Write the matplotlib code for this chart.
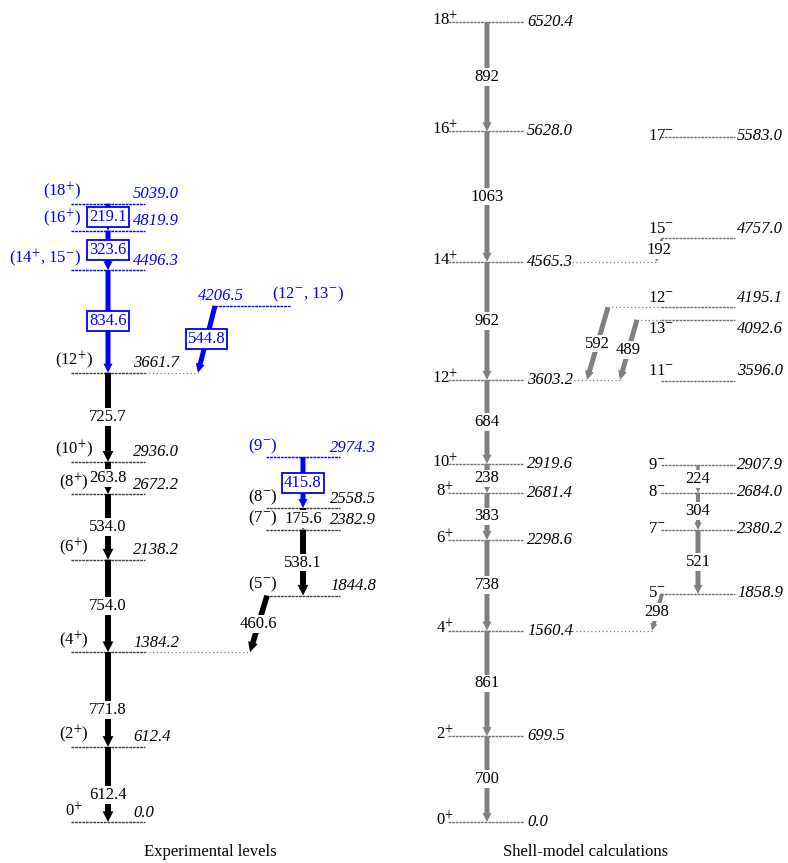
import matplotlib
matplotlib.use("Agg")
import matplotlib.pyplot as plt
from matplotlib.patches import FancyArrowPatch, ArrowStyle

plt.rcParams["font.family"] = ["Liberation Serif", "DejaVu Serif"]
plt.rcParams["mathtext.fontset"] = "stix"
plt.rcParams["font.size"] = 12

BLUE = "#0000ff"
GREY = "#808080"

# Experimental levels: ground band
exp_band_E = [0.0, 612.4, 1384.2, 2138.2, 2672.2, 2936.0, 3661.7, 4496.3, 4819.9, 5039.0]
exp_band_J = [r"0$^{+}$", r"(2$^{+}$)", r"(4$^{+}$)", r"(6$^{+}$)", r"(8$^{+}$)", r"(10$^{+}$)",
              r"(12$^{+}$)", r"(14$^{+}$, 15$^{-}$)", r"(16$^{+}$)", r"(18$^{+}$)"]
exp_band_new = [False, False, False, False, False, False, False, True, True, True]

# Experimental levels: negative-parity side band
exp_side_E = [1844.8, 2382.9, 2558.5, 2974.3]
exp_side_J = [r"(5$^{-}$)", r"(7$^{-}$)", r"(8$^{-}$)", r"(9$^{-}$)"]
exp_side_new = [False, False, False, True]

exp_top_E = 4206.5
exp_top_J = r"(12$^{-}$, 13$^{-}$)"

# Experimental gamma rays (from, to, label)
exp_band_gammas = [(612.4, 0.0, "612.4"), (1384.2, 612.4, "771.8"), (2138.2, 1384.2, "754.0"),
                   (2672.2, 2138.2, "534.0"), (2936.0, 2672.2, "263.8"), (3661.7, 2936.0, "725.7"),
                   (4496.3, 3661.7, "834.6"), (4819.9, 4496.3, "323.6"), (5039.0, 4819.9, "219.1")]
exp_side_gammas = [(2382.9, 1844.8, "538.1"), (2558.5, 2382.9, "175.6"), (2974.3, 2558.5, "415.8")]
exp_cross_gammas = [(1844.8, 1384.2, "460.6"), (4206.5, 3661.7, "544.8")]

# Shell-model levels
sm_pos_E = [0.0, 699.5, 1560.4, 2298.6, 2681.4, 2919.6, 3603.2, 4565.3, 5628.0, 6520.4]
sm_pos_J = [r"0$^{+}$", r"2$^{+}$", r"4$^{+}$", r"6$^{+}$", r"8$^{+}$", r"10$^{+}$",
            r"12$^{+}$", r"14$^{+}$", r"16$^{+}$", r"18$^{+}$"]
sm_neg_E = [1858.9, 2380.2, 2684.0, 2907.9, 3596.0, 4092.6, 4195.1, 4757.0, 5583.0]
sm_neg_J = [r"5$^{-}$", r"7$^{-}$", r"8$^{-}$", r"9$^{-}$", r"11$^{-}$", r"13$^{-}$",
            r"12$^{-}$", r"15$^{-}$", r"17$^{-}$"]

sm_pos_gammas = [(699.5, 0.0, "700"), (1560.4, 699.5, "861"), (2298.6, 1560.4, "738"),
                 (2681.4, 2298.6, "383"), (2919.6, 2681.4, "238"), (3603.2, 2919.6, "684"),
                 (4565.3, 3603.2, "962"), (5628.0, 4565.3, "1063"), (6520.4, 5628.0, "892")]
sm_neg_gammas = [(1858.9, 1560.4, "298"), (2380.2, 1858.9, "521"), (2684.0, 2380.2, "304"),
                 (2907.9, 2684.0, "224"), (4757.0, 4565.3, "192"),
                 (4195.1, 3603.2, "592"), (4092.6, 3603.2, "489")]

fig = plt.figure(figsize=(7.88, 8.63), dpi=100)
ax = fig.add_axes([0, 0, 1, 1])
ax.set_xlim(0, 788)
ax.set_ylim(-334, 6699)
ax.axis("off")

LEVEL_LS = (0, (2.0, 0.6))
EXT_LS = (0, (1.0, 2.0))


def level(x0, x1, E, color="0.25"):
    ax.plot([x0, x1], [E, E], color=color, lw=1.0, ls=LEVEL_LS, zorder=2)


def extension(x0, x1, E):
    ax.plot([x0, x1], [E, E], color="0.5", lw=0.9, ls=EXT_LS, zorder=1)


def label(x, E, s, color="black", ha="center", va="bottom", dy=1.0, italic=False):
    ax.annotate(s, (x, E), xytext=(0, dy), textcoords="offset points", ha=ha, va=va,
                color=color, fontstyle="italic" if italic else "normal", zorder=5)


def gamma(x0, E0, x1, E1, text, color="black", w=4.3, boxed=False, frac=0.5, tcolor=None):
    style = ArrowStyle.Simple(head_length=1.8 * w, head_width=1.8 * w, tail_width=w)
    arr = FancyArrowPatch((x0, E0), (x1, E1), arrowstyle=style, mutation_scale=1,
                          color=color, lw=0, shrinkA=0, shrinkB=0, zorder=3)
    ax.add_patch(arr)
    if boxed:
        bbox = dict(boxstyle="square,pad=0.12", fc="white", ec=color, lw=1.3)
    else:
        bbox = dict(boxstyle="square,pad=0.05", fc="white", ec="none")
    ax.text(x0 + frac * (x1 - x0), E0 + frac * (E1 - E0), text, ha="center", va="center",
            color=tcolor or color, bbox=bbox, zorder=4)


# ---- experimental scheme ----
BX0, BX1, BX = 71, 145, 108
for E, J, new in zip(exp_band_E, exp_band_J, exp_band_new):
    c = BLUE if new else "black"
    level(BX0, BX1, E, BLUE if new else "0.25")
    if new:
        label(81, E, J, c, ha="right")
    else:
        label(74, E, J, c)
    label(133, E, f"{E:.1f}", c, ha="left", italic=True)

SX0, SX1, SX = 266, 340, 303
for E, J, new in zip(exp_side_E, exp_side_J, exp_side_new):
    c = BLUE if new else "black"
    level(SX0, SX1, E, BLUE if new else "0.25")
    label(278, E, J, c, ha="right")
    label(330, E, f"{E:.1f}", c, ha="left", italic=True)

level(215, 290, exp_top_E, BLUE)
label(198, exp_top_E, f"{exp_top_E:.1f}", BLUE, ha="left", italic=True)
label(272, exp_top_E, exp_top_J, BLUE, ha="left")

extension(BX1, 198, 3661.7)
extension(BX1, 250, 1384.2)

# lowest two labels sit a little below the middle of their arrows
band_frac = {"612.4": 0.64, "771.8": 0.61}
for Ei, Ef, t in exp_band_gammas:
    new = Ei > 4000
    gamma(BX, Ei, BX, Ef, t, BLUE if new else "black", 3.6 if new else 4.3,
          boxed=new, frac=band_frac.get(t, 0.5))
for Ei, Ef, t in exp_side_gammas:
    new = Ei > 2900
    gamma(SX, Ei, SX, Ef, t, BLUE if new else "black", 3.6 if new else 4.3, boxed=new)
gamma(267, exp_cross_gammas[0][0], 250, exp_cross_gammas[0][1], exp_cross_gammas[0][2], "black", 4.0)
gamma(215, exp_cross_gammas[1][0], 198, exp_cross_gammas[1][1], exp_cross_gammas[1][2], BLUE, 3.6, boxed=True)

# ---- shell-model scheme ----
PX0, PX1, PX = 448, 523, 487
for E, J in zip(sm_pos_E, sm_pos_J):
    level(PX0, PX1, E, "0.45")
    label(445, E, J, va="center", dy=1.5)
    label(527, E, f"{E:.1f}", ha="left", va="center", dy=0, italic=True)

NX0, NX1, NX = 661, 735, 698
neg_va = {"11": "bottom", "12": "bottom", "15": "bottom", "13": "top"}
for E, J in zip(sm_neg_E, sm_neg_J):
    level(NX0, NX1, E, "0.45")
    key = J.split("$")[0]
    va = neg_va.get(key, "center")
    dy = {"bottom": 1.0, "top": -1.0, "center": 0.5}[va]
    label(648, E, J, ha="left", va=va, dy=dy)
    label(737, E, f"{E:.1f}", ha="left", va=va, dy=dy, italic=True)

extension(572, 652, 1560.4)
extension(572, 656, 4565.3)
extension(570, 620, 3603.2)
extension(608, NX0, 4195.1)
extension(637, NX0, 4092.6)

for Ei, Ef, t in sm_pos_gammas:
    gamma(PX, Ei, PX, Ef, t, GREY, 3.6, tcolor="black")

neg_geom = {"298": (662, 652, 2.8), "521": (NX, NX, 3.6), "304": (NX, NX, 3.0),
            "224": (NX, NX, 2.4), "192": (662, 656, 1.9), "592": (608, 587, 3.6),
            "489": (637, 620, 3.6)}
for Ei, Ef, t in sm_neg_gammas:
    xa, xb, w = neg_geom[t]
    gamma(xa, Ei, xb, Ef, t, GREY, w, tcolor="black")

fig.text(210 / 788, 1 - 852 / 863, "Experimental levels", ha="center", va="center", fontsize=12)
fig.text(586 / 788, 1 - 852 / 863, "Shell-model calculations", ha="center", va="center", fontsize=12)

fig.savefig("out.png", dpi=100)
